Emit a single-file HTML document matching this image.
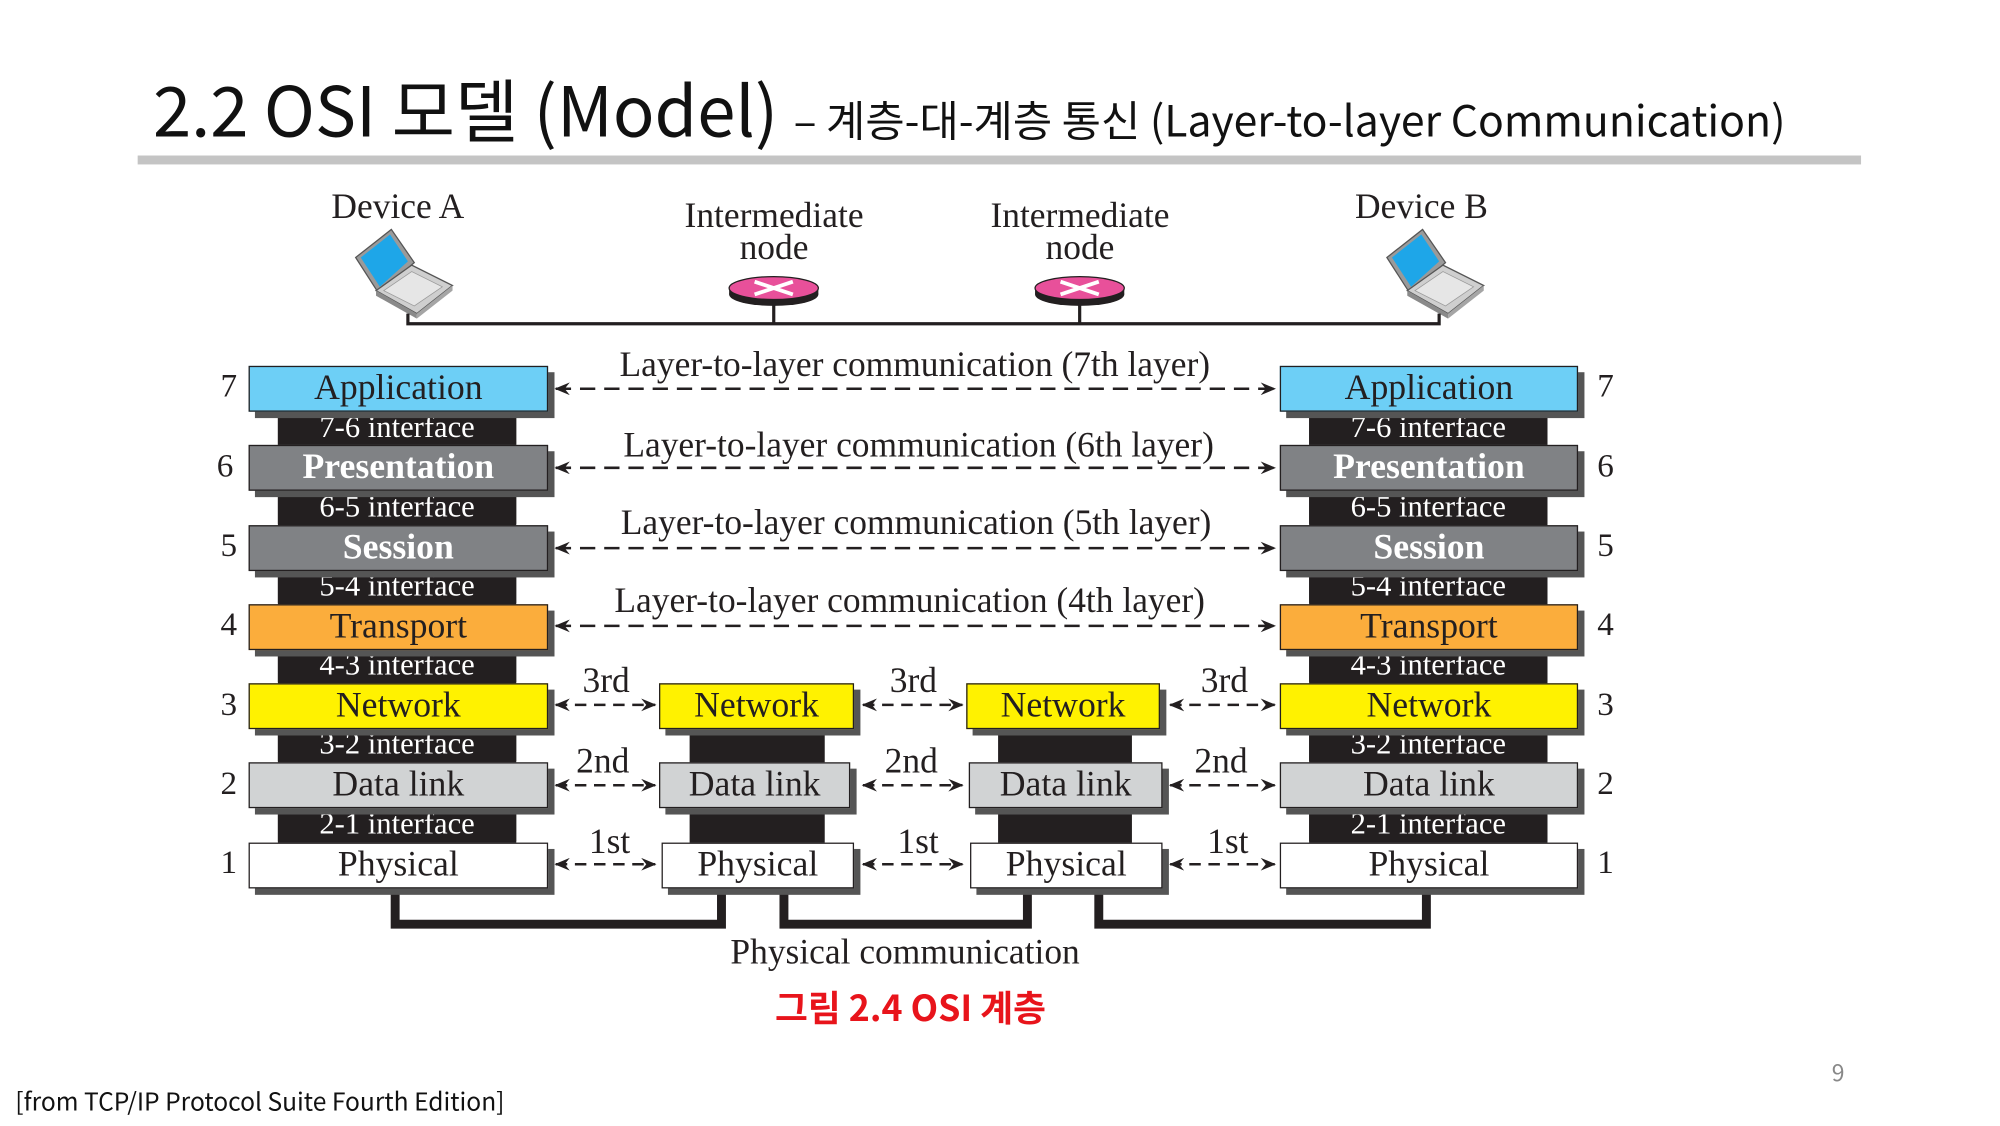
<!DOCTYPE html>
<html><head><meta charset="utf-8"><style>
html,body{margin:0;padding:0;background:#fff;width:2000px;height:1125px;overflow:hidden}
#s{position:absolute;left:0;top:0;width:1569px;height:883px;transform:scale(1.2747);transform-origin:0 0}
.a{position:absolute}
.box{position:absolute;border:1.5px solid #231f20;box-sizing:border-box;box-shadow:5px 5px 0 #555;font-family:"Liberation Serif",serif;font-size:28px;text-align:center;color:#231f20;white-space:nowrap}
.blk{position:absolute;background:#231f20;color:#fff;font-family:"Liberation Serif",serif;font-size:24px;text-align:center;white-space:nowrap}
.num{position:absolute;font-family:"Liberation Serif",serif;font-size:26px;color:#231f20}
.lbl{position:absolute;font-family:"Liberation Serif",serif;font-size:27.8px;color:#231f20;white-space:nowrap}
.ks{font-family:"Noto Sans CJK KR","Liberation Sans",sans-serif}
</style></head><body><div id="s">
<div class="a ks" style="left:120px;top:44px;font-size:54px;color:#111;white-space:nowrap;line-height:80px">2.2 OSI 모델 (Model) <span style="font-size:33.5px">– 계층-대-계층 통신 (Layer-to-layer Communication)</span></div>
<div class="a" style="left:108px;top:122px;width:1352px;height:7px;background:#c4c4c4"></div>

<div class="lbl" style="left:260px;top:147px">Device A</div>
<div class="lbl" style="left:1063px;top:147px">Device B</div>
<div class="lbl" style="left:537px;top:157px;text-align:center;line-height:25px">Intermediate<br>node</div>
<div class="lbl" style="left:777px;top:157px;text-align:center;line-height:25px">Intermediate<br>node</div>

<svg class="a" style="left:0;top:0" width="1569" height="883">
<defs>
<g id="lap">
<polygon points="0,22 28,0 46,26 18,50" fill="#9a9a9a" stroke="#555"/>
<polygon points="4,22 27,4 41,25 19,45" fill="#1ea6e8"/>
<polygon points="16,48 44,28 76,44 48,66" fill="#cfcfcf" stroke="#555"/>
<polygon points="22,48 44,33 68,45 46,60" fill="#e6e6e6" stroke="#999" stroke-width="0.6"/>
<polygon points="16,48 48,66 48,70 16,52" fill="#8a8a8a"/>
<polygon points="48,66 76,44 76,48 48,70" fill="#a5a5a5"/>
</g>
<g id="rt"><ellipse cx="0" cy="5" rx="35" ry="9" fill="#231f20"/><rect x="-35" y="0" width="70" height="5" fill="#231f20"/><ellipse cx="0" cy="0" rx="35" ry="9" fill="#e8509a" stroke="#231f20"/><path d="M-15,-5 L15,5 M-15,5 L15,-5" stroke="#fff" stroke-width="3"/></g>
<marker id="ah" viewBox="0 0 12 10" refX="11" refY="5" markerWidth="12" markerHeight="10" orient="auto-start-reverse" markerUnits="userSpaceOnUse"><path d="M0,0 L12,5 L0,10 L4,5 z" fill="#231f20"/></marker>
</defs>
<use href="#lap" x="279" y="180"/>
<use href="#lap" x="1088" y="180"/>
<use href="#rt" x="607" y="226"/>
<use href="#rt" x="847" y="226"/>
<path d="M320,246 V254 H1129 V246 M607,236 V254 M847,236 V254" stroke="#231f20" stroke-width="2.5" fill="none"/>
<g stroke="#231f20" stroke-width="2" stroke-dasharray="12,7" fill="none" marker-start="url(#ah)" marker-end="url(#ah)">
<path d="M436,305 H1000"/><path d="M436,367 H1000"/><path d="M436,430 H1000"/><path d="M436,491 H1000"/>
<path d="M436,553 H514" stroke-dasharray="9,6"/><path d="M677,553 H755" stroke-dasharray="9,6"/><path d="M918,553 H1000" stroke-dasharray="9,6"/>
<path d="M436,616 H514" stroke-dasharray="9,6"/><path d="M677,616 H755" stroke-dasharray="9,6"/><path d="M918,616 H1000" stroke-dasharray="9,6"/>
<path d="M436,678 H514" stroke-dasharray="9,6"/><path d="M677,678 H755" stroke-dasharray="9,6"/><path d="M918,678 H1000" stroke-dasharray="9,6"/>
</g>
<path d="M310,697 V725 H566 V697 M615,697 V725 H806 V697 M862,697 V725 H1119 V697" stroke="#231f20" stroke-width="7" fill="none"/>
</svg>

<div class="lbl" style="left:486px;top:271px">Layer-to-layer communication (7th layer)</div>
<div class="lbl" style="left:489px;top:334px">Layer-to-layer communication (6th layer)</div>
<div class="lbl" style="left:487px;top:395px">Layer-to-layer communication (5th layer)</div>
<div class="lbl" style="left:482px;top:456px">Layer-to-layer communication (4th layer)</div>
<div class="lbl" style="left:457px;top:519px">3rd</div><div class="lbl" style="left:698px;top:519px">3rd</div><div class="lbl" style="left:942px;top:519px">3rd</div>
<div class="lbl" style="left:452px;top:582px">2nd</div><div class="lbl" style="left:694px;top:582px">2nd</div><div class="lbl" style="left:937px;top:582px">2nd</div>
<div class="lbl" style="left:462px;top:645px">1st</div><div class="lbl" style="left:704px;top:645px">1st</div><div class="lbl" style="left:947px;top:645px">1st</div>

<div class="blk" style="left:218px;top:320px;width:187px;height:343px"></div>
<div class="blk" style="left:1027px;top:320px;width:187px;height:343px"></div>
<div class="blk" style="left:541px;top:570px;width:106px;height:93px"></div>
<div class="blk" style="left:783px;top:570px;width:105px;height:93px"></div>

<div class="blk" style="left:218px;top:323px;width:187px;line-height:26px">7-6 interface</div>
<div class="blk" style="left:218px;top:385px;width:187px;line-height:26px">6-5 interface</div>
<div class="blk" style="left:218px;top:447px;width:187px;line-height:26px">5-4 interface</div>
<div class="blk" style="left:218px;top:509px;width:187px;line-height:26px">4-3 interface</div>
<div class="blk" style="left:218px;top:571px;width:187px;line-height:26px">3-2 interface</div>
<div class="blk" style="left:218px;top:634px;width:187px;line-height:26px">2-1 interface</div>
<div class="blk" style="left:1027px;top:323px;width:187px;line-height:26px">7-6 interface</div>
<div class="blk" style="left:1027px;top:385px;width:187px;line-height:26px">6-5 interface</div>
<div class="blk" style="left:1027px;top:447px;width:187px;line-height:26px">5-4 interface</div>
<div class="blk" style="left:1027px;top:509px;width:187px;line-height:26px">4-3 interface</div>
<div class="blk" style="left:1027px;top:571px;width:187px;line-height:26px">3-2 interface</div>
<div class="blk" style="left:1027px;top:634px;width:187px;line-height:26px">2-1 interface</div>

<div class="box" style="left:195px;top:287px;width:235px;height:36px;line-height:33px;background:#6dcff6">Application</div>
<div class="box" style="left:195px;top:349px;width:235px;height:36px;line-height:33px;background:#808285;color:#fff;font-weight:bold">Presentation</div>
<div class="box" style="left:195px;top:412px;width:235px;height:36px;line-height:33px;background:#808285;color:#fff;font-weight:bold">Session</div>
<div class="box" style="left:195px;top:474px;width:235px;height:36px;line-height:33px;background:#fbad3c">Transport</div>
<div class="box" style="left:195px;top:536px;width:235px;height:36px;line-height:33px;background:#fff200">Network</div>
<div class="box" style="left:195px;top:598px;width:235px;height:36px;line-height:33px;background:#d1d3d4">Data link</div>
<div class="box" style="left:195px;top:661px;width:235px;height:36px;line-height:33px;background:#fff">Physical</div>

<div class="box" style="left:1004px;top:287px;width:234px;height:36px;line-height:33px;background:#6dcff6">Application</div>
<div class="box" style="left:1004px;top:349px;width:234px;height:36px;line-height:33px;background:#808285;color:#fff;font-weight:bold">Presentation</div>
<div class="box" style="left:1004px;top:412px;width:234px;height:36px;line-height:33px;background:#808285;color:#fff;font-weight:bold">Session</div>
<div class="box" style="left:1004px;top:474px;width:234px;height:36px;line-height:33px;background:#fbad3c">Transport</div>
<div class="box" style="left:1004px;top:536px;width:234px;height:36px;line-height:33px;background:#fff200">Network</div>
<div class="box" style="left:1004px;top:598px;width:234px;height:36px;line-height:33px;background:#d1d3d4">Data link</div>
<div class="box" style="left:1004px;top:661px;width:234px;height:36px;line-height:33px;background:#fff">Physical</div>

<div class="box" style="left:517px;top:536px;width:153px;height:36px;line-height:33px;background:#fff200">Network</div>
<div class="box" style="left:517px;top:598px;width:150px;height:36px;line-height:33px;background:#d1d3d4">Data link</div>
<div class="box" style="left:519px;top:661px;width:151px;height:36px;line-height:33px;background:#fff">Physical</div>
<div class="box" style="left:758px;top:536px;width:152px;height:36px;line-height:33px;background:#fff200">Network</div>
<div class="box" style="left:760px;top:598px;width:152px;height:36px;line-height:33px;background:#d1d3d4">Data link</div>
<div class="box" style="left:761px;top:661px;width:151px;height:36px;line-height:33px;background:#fff">Physical</div>

<div class="num" style="left:173px;top:288px">7</div><div class="num" style="left:170px;top:351px">6</div><div class="num" style="left:173px;top:413px">5</div><div class="num" style="left:173px;top:475px">4</div><div class="num" style="left:173px;top:538px">3</div><div class="num" style="left:173px;top:600px">2</div><div class="num" style="left:173px;top:662px">1</div>
<div class="num" style="left:1253px;top:288px">7</div><div class="num" style="left:1253px;top:351px">6</div><div class="num" style="left:1253px;top:413px">5</div><div class="num" style="left:1253px;top:475px">4</div><div class="num" style="left:1253px;top:538px">3</div><div class="num" style="left:1253px;top:600px">2</div><div class="num" style="left:1253px;top:662px">1</div>

<div class="lbl" style="left:573px;top:732px">Physical communication</div>
<div class="a ks" style="left:608px;top:770px;font-weight:bold;font-size:28px;color:#e8141b;white-space:nowrap">그림 2.4 OSI 계층</div>
<div class="a ks" style="left:1437px;top:828px;font-size:18px;color:#888">9</div>
<div class="a ks" style="left:12px;top:849px;font-size:19.3px;color:#111;white-space:nowrap">[from TCP/IP Protocol Suite Fourth Edition]</div>
</div></body></html>
